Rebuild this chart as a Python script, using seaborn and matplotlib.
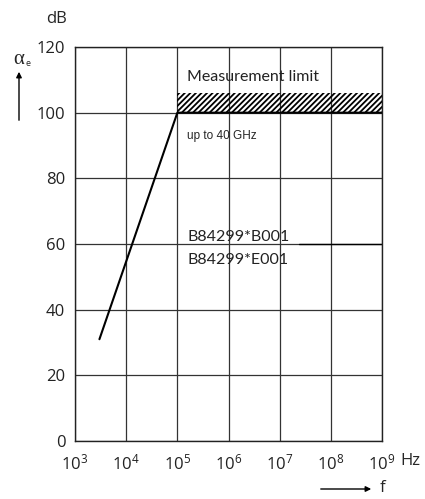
import matplotlib

matplotlib.use("Agg")
import matplotlib.pyplot as plt
import numpy as np
import pandas as pd
import seaborn as sns

# attenuation curve (frequency in Hz, attenuation in dB)
freq_hz = [3.0e3, 1.0e5, 1.0e9]
atten_db = [31, 100, 100]

# measurement limit band
limit_freq = [1.0e5, 1.0e9]
limit_low = [100, 100]
limit_high = [106, 106]

decades = [3, 4, 5, 6, 7, 8, 9]
y_ticks = [0, 20, 40, 60, 80, 100, 120]

sns.set_theme(style="white")
plt.rcParams["font.family"] = ["Open Sans", "DejaVu Sans"]
plt.rcParams["mathtext.fontset"] = "custom"
plt.rcParams["mathtext.rm"] = "Open Sans"
plt.rcParams["mathtext.it"] = "Open Sans:italic"
plt.rcParams["hatch.linewidth"] = 1.3

LABEL_FONT = ["Lato", "Open Sans"]

fig = plt.figure(figsize=(4.25, 4.99), dpi=100)
ax = fig.add_axes([0.1765, 0.1162, 0.7225, 0.7896])

df = pd.DataFrame({"f": freq_hz, "a": atten_db})
sns.lineplot(data=df, x="f", y="a", ax=ax, color="black", lw=1.5)
ax.fill_between(limit_freq, limit_low, limit_high, facecolor="none",
                edgecolor="black", hatch="//////", linewidth=0)

ax.set_xscale("log")
ax.set_xlim(1e3, 1e9)
ax.set_ylim(0, 120)
ax.set_xticks([10.0 ** d for d in decades])
ax.set_xticklabels([f"$10^{{{d}}}$" for d in decades])
ax.minorticks_off()
ax.set_yticks(y_ticks)
ax.tick_params(axis="both", labelsize=12, length=0, colors="#222")
ax.tick_params(axis="y", pad=7)
ax.tick_params(axis="x", pad=9)
ax.grid(True, color="#333", lw=0.9)
for s in ax.spines.values():
    s.set_color("#222")
    s.set_linewidth(1.0)
ax.set_xlabel("")
ax.set_ylabel("")

ax.text(1.55e5, 111, "Measurement limit", fontsize=11.5, va="center", ha="left",
        family=LABEL_FONT, color="#222")
ax.text(1.55e5, 93, "up to 40 GHz", fontsize=8.5, va="center", ha="left",
        family="Liberation Sans")
ax.text(1.55e5, 62.1, "B84299*B001", fontsize=11.5, va="center", ha="left",
        family=LABEL_FONT, color="#222")
ax.text(1.55e5, 55.1, "B84299*E001", fontsize=11.5, va="center", ha="left",
        family=LABEL_FONT, color="#222")
ax.plot([2.4e7, 1e9], [60, 60], color="black", lw=1.0)

# axis quantity labels
fig.text(56 / 425, 1 - 19 / 499, "dB", fontsize=12, ha="center", va="center")
fig.text(410 / 425, 1 - 461 / 499, "Hz", fontsize=12, ha="center", va="center")
fig.text(19 / 425, 1 - 59 / 499, "α", fontsize=15, ha="center", va="center",
         family="Liberation Serif")
fig.text(25 / 425, 1 - 64 / 499, "e", fontsize=6.5, ha="left", va="center")
fig.text(383 / 425, 1 - 488 / 499, "f", fontsize=12, ha="center", va="center")
fig.add_artist(matplotlib.patches.FancyArrowPatch(
    (19 / 425, 1 - 123 / 499), (19 / 425, 1 - 69 / 499), transform=fig.transFigure,
    arrowstyle="-|>", mutation_scale=8, color="black", lw=1.0))
fig.add_artist(matplotlib.patches.FancyArrowPatch(
    (318 / 425, 1 - 489 / 499), (374 / 425, 1 - 489 / 499), transform=fig.transFigure,
    arrowstyle="-|>", mutation_scale=8, color="black", lw=1.0))

fig.savefig("out.png", dpi=100)
